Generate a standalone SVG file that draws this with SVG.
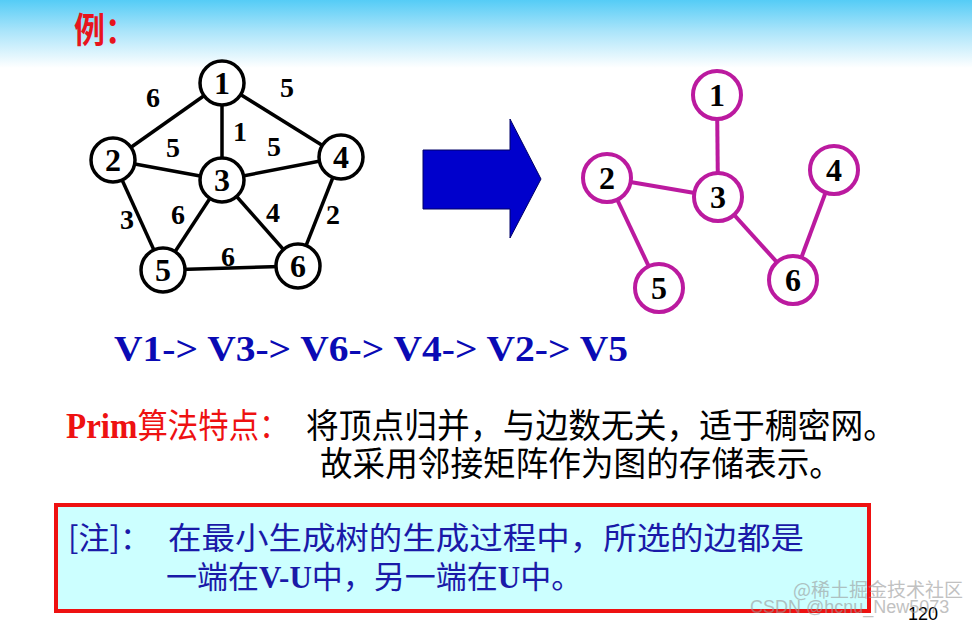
<svg xmlns="http://www.w3.org/2000/svg" width="972" height="627" viewBox="0 0 972 627">
<defs>
<linearGradient id="hdr" x1="0" y1="0" x2="0" y2="1">
<stop offset="0" stop-color="#55ccf6"/>
<stop offset="0.45" stop-color="#a9e4fa"/>
<stop offset="1" stop-color="#ffffff"/>
</linearGradient>
</defs>
<style>
.e{stroke:#000;stroke-width:3.5;fill:none}
.m{stroke:#bb1a9f;stroke-width:4;fill:none}
.nb{fill:#fff;stroke:#000;stroke-width:3.5}
.nm{fill:#fff;stroke:#bb1a9f;stroke-width:4}
.d{font-family:"Liberation Serif",serif;font-weight:bold;font-size:32px;fill:#000;text-anchor:middle}
.w{font-family:"Liberation Serif",serif;font-weight:bold;font-size:28px;fill:#000;text-anchor:middle}
.cn{font-family:"Noto Sans CJK SC",sans-serif;font-size:31px}
.tb{font-family:"Liberation Serif",serif;font-weight:bold}
</style>
<rect width="972" height="627" fill="#fff"/>
<rect width="972" height="68" fill="url(#hdr)"/>
<text transform="translate(74,43) scale(1,1.15)" font-family="Noto Sans CJK SC,sans-serif" font-size="31" font-weight="bold" fill="#e8141c">例：</text>

<g id="edges-left">
<line class="e" x1="222" y1="83" x2="113" y2="160"/>
<line class="e" x1="222" y1="83" x2="341" y2="157"/>
<line class="e" x1="222" y1="83" x2="222" y2="180"/>
<line class="e" x1="113" y1="160" x2="222" y2="180"/>
<line class="e" x1="341" y1="157" x2="222" y2="180"/>
<line class="e" x1="113" y1="160" x2="163" y2="270"/>
<line class="e" x1="222" y1="180" x2="163" y2="270"/>
<line class="e" x1="222" y1="180" x2="298" y2="266"/>
<line class="e" x1="341" y1="157" x2="298" y2="266"/>
<line class="e" x1="163" y1="270" x2="298" y2="266"/>
</g>
<g id="edge-labels-left">
<text class="w" x="153" y="107">6</text>
<text class="w" x="287" y="97">5</text>
<text class="w" x="240" y="141">1</text>
<text class="w" x="173" y="157">5</text>
<text class="w" x="274" y="156">5</text>
<text class="w" x="127" y="229">3</text>
<text class="w" x="178" y="224">6</text>
<text class="w" x="273" y="222">4</text>
<text class="w" x="333" y="224">2</text>
<text class="w" x="228" y="266">6</text>
</g>
<g id="L1"><circle class="nb" cx="222" cy="83" r="22"/><text class="d" x="222" y="94">1</text></g>
<g id="L2"><circle class="nb" cx="113" cy="160" r="22"/><text class="d" x="113" y="171">2</text></g>
<g id="L3"><circle class="nb" cx="222" cy="180" r="22"/><text class="d" x="222" y="191">3</text></g>
<g id="L4"><circle class="nb" cx="341" cy="157" r="22"/><text class="d" x="341" y="168">4</text></g>
<g id="L5"><circle class="nb" cx="163" cy="270" r="22"/><text class="d" x="163" y="281">5</text></g>
<g id="L6"><circle class="nb" cx="298" cy="266" r="22"/><text class="d" x="298" y="277">6</text></g>

<g id="arrow"><polygon points="423,150 510,150 510,119 541,179 510,238 510,209 423,209" fill="#0000cc" stroke="#000066" stroke-width="1"/></g>

<g id="edges-right">
<line class="m" x1="717" y1="95" x2="718" y2="197"/>
<line class="m" x1="607" y1="178" x2="718" y2="197"/>
<line class="m" x1="607" y1="178" x2="659" y2="288"/>
<line class="m" x1="718" y1="197" x2="793" y2="280"/>
<line class="m" x1="834" y1="170" x2="793" y2="280"/>
</g>
<g id="R1"><circle class="nm" cx="717" cy="95" r="24"/><text class="d" x="717" y="106">1</text></g>
<g id="R2"><circle class="nm" cx="607" cy="178" r="24"/><text class="d" x="607" y="189">2</text></g>
<g id="R3"><circle class="nm" cx="718" cy="197" r="24"/><text class="d" x="718" y="208">3</text></g>
<g id="R4"><circle class="nm" cx="834" cy="170" r="24"/><text class="d" x="834" y="181">4</text></g>
<g id="R5"><circle class="nm" cx="659" cy="288" r="24"/><text class="d" x="659" y="299">5</text></g>
<g id="R6"><circle class="nm" cx="793" cy="280" r="24"/><text class="d" x="793" y="291">6</text></g>

<text x="114" y="361" font-family="Liberation Serif,serif" font-weight="bold" font-size="36" fill="#0a0ab4" textLength="514" lengthAdjust="spacingAndGlyphs">V1-&gt; V3-&gt; V6-&gt; V4-&gt; V2-&gt; V5</text>

<text transform="translate(66,438) scale(1,1.1)" class="cn" font-size="32" fill="#ee1111"><tspan class="tb" font-size="33">Prim</tspan><tspan textLength="152" lengthAdjust="spacingAndGlyphs">算法特点：</tspan></text>
<text transform="translate(306,438) scale(1,1.1)" class="cn" fill="#000" textLength="590" lengthAdjust="spacingAndGlyphs">将顶点归并，与边数无关，适于稠密网。</text>
<text transform="translate(320,476) scale(1,1.1)" class="cn" fill="#000" textLength="522" lengthAdjust="spacingAndGlyphs">故采用邻接矩阵作为图的存储表示。</text>

<g id="note">
<rect x="56" y="505" width="813" height="106" fill="#ccffff" stroke="#ee1111" stroke-width="4"/>
<text x="68" y="549" class="cn" fill="#1a1aa8">[注]：<tspan x="168" textLength="636" lengthAdjust="spacingAndGlyphs">在最小生成树的生成过程中，所选的边都是</tspan></text>
<text x="166" y="588" class="cn" fill="#1a1aa8">一端在<tspan class="tb" font-size="31">V-U</tspan>中，另一端在<tspan class="tb" font-size="31">U</tspan>中。</text>
</g>
<text x="908" y="620" font-family="Liberation Sans,sans-serif" font-size="18" fill="#000">120</text>
<text x="793" y="597" font-family="Noto Sans CJK SC,sans-serif" font-size="19" fill="#999" opacity="0.6">@稀土掘金技术社区</text>
<text x="750" y="613" font-family="Liberation Sans,sans-serif" font-size="18" fill="#999" opacity="0.6">CSDN @hcnu_New5073</text>
</svg>
